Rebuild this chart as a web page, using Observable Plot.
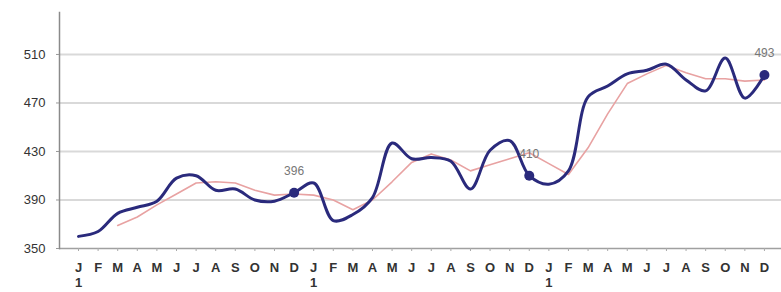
<!DOCTYPE html>
<html><head><meta charset="utf-8">
<script src="https://cdn.jsdelivr.net/npm/d3@7"></script>
<script src="https://cdn.jsdelivr.net/npm/@observablehq/plot@0.6"></script>
<style>html,body{margin:0;padding:0;background:#fff}</style>
</head><body><div id="chart"></div>
<script>
const monthLetters = ["J","F","M","A","M","J","J","A","S","O","N","D",
                      "J","F","M","A","M","J","J","A","S","O","N","D",
                      "J","F","M","A","M","J","J","A","S","O","N","D"];
const yearMarks = ["1","","","","","","","","","","","",
                   "1","","","","","","","","","","","",
                   "1","","","","","","","","","","",""];
const actual = [360, 364, 379, 384, 389, 408, 410, 398, 399, 390, 389, 396,
                404, 373, 378, 392, 437, 424, 425, 422, 399, 431, 439, 410,
                403, 414, 475, 484, 494, 497, 502, 489, 480, 507, 474, 493];
const average = [null, null, 369, 376, 386, 395, 404, 405, 404, 398, 394, 395,
                 394, 390, 382, 390, 405, 421, 428, 423, 414, 419, 424, 429,
                 420, 411, 433, 461, 486, 494, 501, 495, 490, 490, 488, 489];
const labelledIdx = [11, 23, 35];
const yTicks = [350, 390, 430, 470, 510];

const data = actual.map((v, i) => ({i, actual: v, average: average[i]}));
const labelled = labelledIdx.map(i => data[i]);

const chart = Plot.plot({
  width: 781, height: 292,
  marginLeft: 59, marginRight: 0, marginTop: 12, marginBottom: 44,
  style: {fontFamily: "'Liberation Sans', Arial, sans-serif", background: "#fff", overflow: "visible"},
  x: {domain: [-0.97, 35.87], label: null},
  y: {domain: [350, 544.6], label: null},
  marks: [
    Plot.gridY(yTicks.slice(1), {stroke: "#d9d9d9", strokeOpacity: 1, strokeWidth: 2}),
    Plot.ruleY([350], {stroke: "#a0a0a0", strokeWidth: 1.5}),
    Plot.frame({anchor: "left", stroke: "#8a8a8a", strokeWidth: 1.5}),
    Plot.axisY({ticks: yTicks, label: null, tickSize: 3, tickPadding: 11, fontSize: 13, fill: "#333", stroke: "#999"}),
    Plot.axisX({ticks: d3.range(36), label: null,
                tickFormat: i => yearMarks[i] ? monthLetters[i] + "\n" + yearMarks[i] : monthLetters[i],
                tickSize: 3, tickPadding: 9, fontSize: 13, fontWeight: "bold", lineHeight: 1.2,
                stroke: "#aaa", fill: "#333"}),
    Plot.lineY(data, {x: "i", y: "average", stroke: "#e8a2a2", strokeWidth: 1.6}),
    Plot.lineY(data, {x: "i", y: "actual", curve: "catmull-rom", stroke: "#2a2a7c", strokeWidth: 3}),
    Plot.dot(labelled, {x: "i", y: "actual", r: 5, fill: "#2a2a7c"}),
    Plot.text(labelled, {x: "i", y: "actual", text: d => String(d.actual), dy: -22, fontSize: 12, fill: "#777"})
  ]
});
document.getElementById("chart").append(chart);
</script>
</body></html>
